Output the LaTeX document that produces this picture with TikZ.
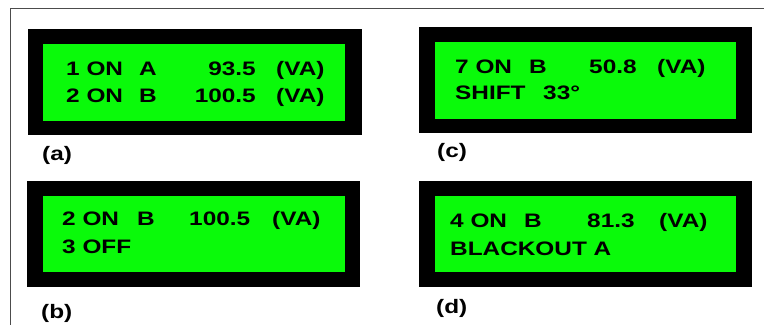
\documentclass[tikz,border=0pt]{standalone}
\usepackage{fontspec}
\newfontfamily\lcdfont{Liberation Sans}[FakeStretch=1.25]
\definecolor{lcdgreen}{RGB}{10,250,10}
\begin{document}
\begin{tikzpicture}[x=1pt,y=-1pt,
	lcdcase/.style={fill=black},
	lcdglass/.style={fill=lcdgreen},
	lcdtext/.style={font=\lcdfont\bfseries\fontsize{19.5}{20}\selectfont,inner sep=0pt,anchor=base west},
	caption/.style={lcdtext}]
	\useasboundingbox (0,0) rectangle (764,325);
	\draw[black!70,line width=0.8pt] (764,8) -- (10,8) -- (10,325);
	% (a)
	\fill[lcdcase] (28,29) rectangle (362,135);
	\fill[lcdglass] (43,44) rectangle (345,121);
	\node[lcdtext] (a11) at (66,75) {1 ON};
	\node[lcdtext] (a12) at (139,75) {A};
	\node[lcdtext,anchor=base east] (a13) at (256,75) {93.5};
	\node[lcdtext] (a14) at (276,75) {(VA)};
	\node[lcdtext] (a21) at (66,102) {2 ON};
	\node[lcdtext] (a22) at (139,102) {B};
	\node[lcdtext,anchor=base east] (a23) at (256,102) {100.5};
	\node[lcdtext] (a24) at (276,102) {(VA)};
	\node[caption] (capa) at (42,160) {(a)};
	% (c)
	\fill[lcdcase] (419,27) rectangle (752,133);
	\fill[lcdglass] (435,42) rectangle (736,119);
	\node[lcdtext] (c11) at (455,73) {7 ON};
	\node[lcdtext] (c12) at (529,73) {B};
	\node[lcdtext] (c13) at (589,73) {50.8};
	\node[lcdtext] (c14) at (657,73) {(VA)};
	\node[lcdtext] (c21) at (455,99) {SHIFT};
	\node[lcdtext] (c22) at (543,99) {33°};
	\node[caption] (capc) at (437,157) {(c)};
	% (b)
	\fill[lcdcase] (27,181) rectangle (360,287);
	\fill[lcdglass] (43,196) rectangle (345,272);
	\node[lcdtext] (b11) at (62,225) {2 ON};
	\node[lcdtext] (b12) at (137,225) {B};
	\node[lcdtext] (b13) at (189,225) {100.5};
	\node[lcdtext] (b14) at (272,225) {(VA)};
	\node[lcdtext] (b21) at (62,253) {3 OFF};
	\node[caption] (capb) at (41,318) {(b)};
	% (d)
	\fill[lcdcase] (419,181) rectangle (752,287);
	\fill[lcdglass] (435,196) rectangle (736,272);
	\node[lcdtext] (d11) at (450,227) {4 ON};
	\node[lcdtext] (d12) at (524,227) {B};
	\node[lcdtext] (d13) at (587,227) {81.3};
	\node[lcdtext] (d14) at (659,227) {(VA)};
	\node[lcdtext] (d21) at (450,255) {BLACKOUT A};
	\node[caption] (capd) at (436,313) {(d)};
\end{tikzpicture}
\end{document}
